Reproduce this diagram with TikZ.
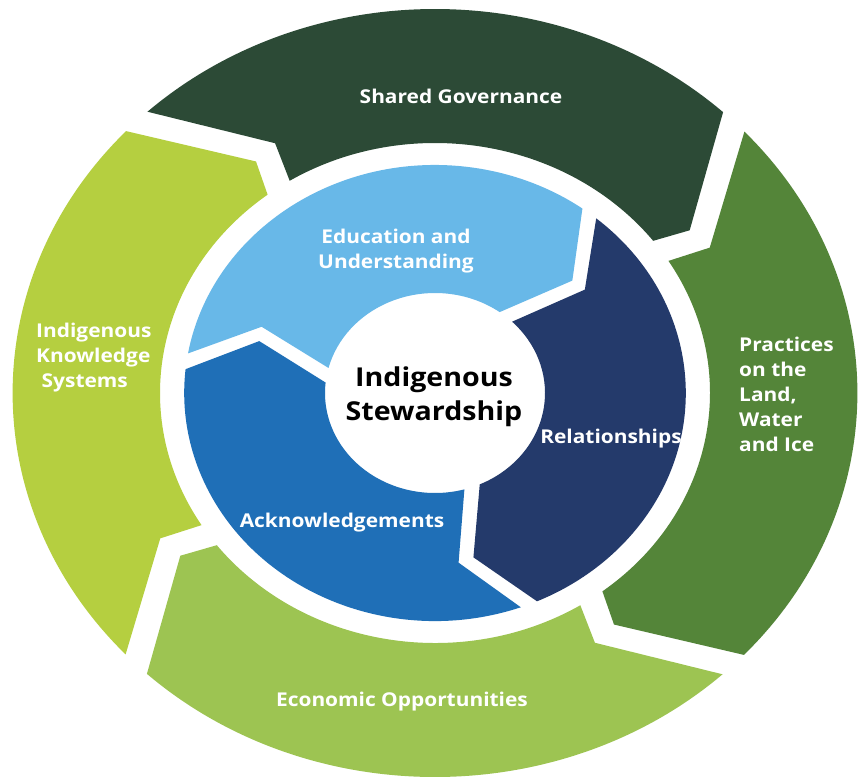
\documentclass[tikz,border=0pt]{standalone}
\usepackage{fontspec}
\setmainfont{Open Sans}
\definecolor{sgc}{RGB}{44,74,54}
\definecolor{plc}{RGB}{84,133,57}
\definecolor{eoc}{RGB}{157,196,82}
\definecolor{ikc}{RGB}{181,207,64}
\definecolor{euc}{RGB}{104,184,232}
\definecolor{rec}{RGB}{36,58,107}
\definecolor{acc}{RGB}{31,111,183}
\begin{document}
\begin{tikzpicture}[x=1pt,y=-1pt,
  lbl/.style={text=white, font=\fontsize{19}{25}\selectfont\bfseries, inner sep=0pt, xscale=1.1},
  ctr/.style={text=black, font=\fontsize{26}{34}\selectfont\bfseries, inner sep=0pt, xscale=1.1}]
\useasboundingbox[fill=white] (0,0) rectangle (861,782);
\begin{scope}[shift={(435,393)}, xscale=1.1, yscale=-1]
  % outer ring
  \fill[sgc] (132.9:384) arc[start angle=132.9, end angle=47, radius=384] -- (35.1:283) -- (37.5:250) arc[start angle=37.5, end angle=121.9, radius=250] -- (120.2:289) -- cycle;
  \fill[plc] (42.9:384) arc[start angle=42.9, end angle=-43, radius=384] -- (-54.9:283) -- (-52.5:250) arc[start angle=-52.5, end angle=31.9, radius=250] -- (30.2:289) -- cycle;
  \fill[eoc] (-47.1:384) arc[start angle=-47.1, end angle=-133, radius=384] -- (-144.9:283) -- (-142.5:250) arc[start angle=-142.5, end angle=-58.1, radius=250] -- (-59.8:289) -- cycle;
  \fill[ikc] (222.9:384) arc[start angle=222.9, end angle=137, radius=384] -- (125.1:283) -- (127.5:250) arc[start angle=127.5, end angle=211.9, radius=250] -- (210.2:289) -- cycle;
  % inner ring
  \fill[euc] (170:228) arc[start angle=170, end angle=54, radius=228] -- (42:168) -- (54:100) arc[start angle=54, end angle=165.5, radius=100] -- (157.2:171) -- cycle;
  \fill[rec] (50:228) arc[start angle=50, end angle=-66, radius=228] -- (-78:168) -- (-66:100) arc[start angle=-66, end angle=45.5, radius=100] -- (37.2:171) -- cycle;
  \fill[acc] (290:228) arc[start angle=290, end angle=174, radius=228] -- (162:168) -- (174:100) arc[start angle=174, end angle=285.5, radius=100] -- (277.2:171) -- cycle;
\end{scope}
\node[lbl, anchor=base] (sg) at (461,103) {Shared Governance};
\node[lbl, anchor=base] (eo) at (402,706) {Economic Opportunities};
\node[lbl, anchor=base] (ac) at (342,527) {Acknowledgements};
\node[lbl, anchor=base] (re) at (611,443) {Relationships};
\node[lbl, anchor=base, align=center] (eu) at (396,268) {Education and\\Understanding};
\node[lbl, anchor=base west, align=left] (ik) at (36,387) {Indigenous\\Knowledge\\\hspace*{5pt}Systems};
\node[lbl, anchor=base west, align=left] (pl) at (739,451) {Practices\\on the\\Land,\\Water\\and Ice};
\node[ctr, anchor=base, align=center] (cs) at (434,420) {Indigenous\\Stewardship};
\end{tikzpicture}
\end{document}
